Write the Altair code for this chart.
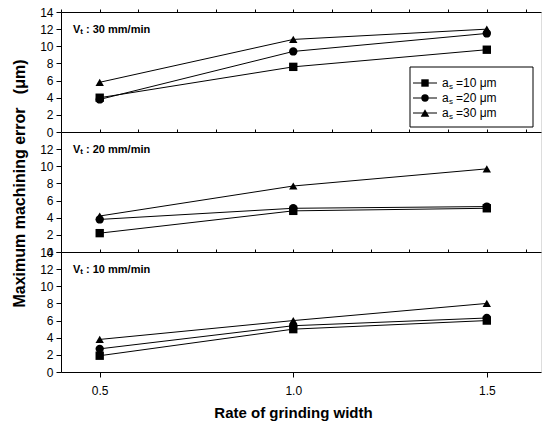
import altair as alt
import pandas as pd

# ---------------- data ----------------
rate = [0.5, 1.0, 1.5]
speeds = ["30", "20", "10"]
series = ["10", "20", "30"]

v30_a10 = [4.0, 7.6, 9.6]
v30_a20 = [3.8, 9.4, 11.5]
v30_a30 = [5.8, 10.8, 12.0]

v20_a10 = [2.2, 4.8, 5.1]
v20_a20 = [3.8, 5.1, 5.3]
v20_a30 = [4.2, 7.7, 9.7]

v10_a10 = [1.9, 5.0, 6.0]
v10_a20 = [2.7, 5.4, 6.3]
v10_a30 = [3.8, 6.0, 8.0]

yticks_full = [0, 2, 4, 6, 8, 10, 12, 14]
yticks_mid = [0, 2, 4, 6, 8, 10, 12]
xticks = [0.5, 1.0, 1.5]
xminor = [0.4, 0.5, 0.6, 0.7, 0.8, 0.9, 1.0, 1.1, 1.2, 1.3, 1.4, 1.5, 1.6]

table = {
    "30": [v30_a10, v30_a20, v30_a30],
    "20": [v20_a10, v20_a20, v20_a30],
    "10": [v10_a10, v10_a20, v10_a30],
}
records = []
for sp in speeds:
    for s, vals in zip(series, table[sp]):
        for r, v in zip(rate, vals):
            records.append({"speed": sp, "series": s, "rate": r, "value": v})
df = pd.DataFrame(records)

W, H = 480, 120
FONT = "Liberation Sans"
NB = "\u00a0"
shape_scale = alt.Scale(domain=series, range=["square", "circle", "triangle-up"])
size_scale = alt.Scale(domain=series, range=[70, 70, 95])
xscale = alt.Scale(domain=[0.4, 1.64], nice=False, zero=False)


def panel(sp, yvals, bottom=False, ytitle=False):
    base = alt.Chart(df).transform_filter(alt.datum.speed == sp)
    yaxis_kw = dict(values=yvals, tickSize=5, labelPadding=3, labelFontSize=12,
                    labelColor="black", domainColor="black", tickColor="black",
                    grid=False, labelFont=FONT)
    if ytitle:
        yaxis_kw.update(title="Maximum machining error" + NB * 3 + "(\u03bcm)",
                        titleFontSize=16, titleFontWeight="bold", titleFont=FONT,
                        titleColor="black", titleX=-42, titleY=51,
                        titleBaseline="middle", titleAngle=270)
    else:
        yaxis_kw.update(title=None)
    y = alt.Y("value:Q", scale=alt.Scale(domain=[0, 14], nice=False), axis=alt.Axis(**yaxis_kw))
    if bottom:
        xaxis = alt.Axis(values=xticks, format=".1f", tickSize=5, labelPadding=8,
                         labelFontSize=12, labelColor="black", labelFont=FONT,
                         domainColor="black", tickColor="black", grid=False,
                         title="Rate of grinding width", titleFontSize=15,
                         titleFontWeight="bold", titleFont=FONT, titleColor="black",
                         titleX=232, titleY=40, titleBaseline="middle")
    else:
        xaxis = None
    lines = base.mark_line(color="black", strokeWidth=1).encode(
        x=alt.X("rate:Q", scale=xscale, axis=xaxis), y=y, detail="series:N")
    pts = base.mark_point(filled=True, color="black", opacity=1).encode(
        x=alt.X("rate:Q", scale=xscale, axis=None), y=y,
        shape=alt.Shape("series:N", scale=shape_scale, legend=None),
        size=alt.Size("series:N", scale=size_scale, legend=None))
    top = base.mark_point(opacity=0).encode(
        x=alt.X("rate:Q", scale=xscale,
                axis=alt.Axis(orient="top", values=xminor, labels=False, tickSize=3,
                              title=None, domainColor="black", tickColor="black",
                              grid=False)),
        y=y)
    one = alt.Chart(pd.DataFrame({"k": [0]}))
    lab1 = one.mark_text(text="V", font=FONT, fontSize=11, fontWeight="bold",
                         align="left", baseline="middle", color="black").encode(
        x=alt.value(12), y=alt.value(18))
    lab2 = one.mark_text(text="t", font=FONT, fontSize=8, fontWeight="bold",
                         align="left", baseline="middle", color="black", dy=2).encode(
        x=alt.value(19.3), y=alt.value(18))
    lab3 = one.mark_text(text=":" + NB + sp + " mm/min", font=FONT, fontSize=11,
                         fontWeight="bold", align="left", baseline="middle",
                         color="black").encode(x=alt.value(25), y=alt.value(18))
    return [lines, pts, top, lab1, lab2, lab3]


def legend_layers():
    one = alt.Chart(pd.DataFrame({"k": [0]}))
    out = [one.mark_rect(fill="white", stroke="black", strokeWidth=1).encode(
        x=alt.value(349), x2=alt.value(472), y=alt.value(55), y2=alt.value(115))]
    ys = [71, 86, 101]
    shapes = ["square", "circle", "triangle-up"]
    sizes = [55, 55, 75]
    for yy, s, shp, sz in zip(ys, series, shapes, sizes):
        out.append(one.mark_rule(color="black", strokeWidth=1).encode(
            x=alt.value(352), x2=alt.value(376), y=alt.value(yy)))
        out.append(one.mark_point(shape=shp, filled=True, color="black", opacity=1,
                                  size=sz).encode(x=alt.value(364), y=alt.value(yy)))
        out.append(one.mark_text(text="a", font=FONT, fontSize=12, align="left",
                                 baseline="middle", color="black").encode(
            x=alt.value(381), y=alt.value(yy)))
        out.append(one.mark_text(text="s", font=FONT, fontSize=8, align="left",
                                 baseline="middle", color="black", dy=4).encode(
            x=alt.value(388), y=alt.value(yy)))
        out.append(one.mark_text(text="=" + s + NB + "\u03bcm", font=FONT, fontSize=12,
                                 align="left", baseline="middle", color="black").encode(
            x=alt.value(395), y=alt.value(yy)))
    return out


p1 = alt.layer(*(panel("30", yticks_full) + legend_layers())).resolve_axis(
    x="independent").properties(width=W, height=H)
p2 = alt.layer(*panel("20", yticks_mid, ytitle=True)).resolve_axis(
    x="independent").properties(width=W, height=H)
p3 = alt.layer(*panel("10", yticks_full, bottom=True)).resolve_axis(
    x="independent").properties(width=W, height=H)

chart = alt.vconcat(p1, p2, p3, spacing=0, bounds="flush").properties(
    padding={"left": 10, "top": 5, "right": 0, "bottom": 5},
    background="white",
).configure_view(stroke=None).configure(font=FONT)

chart.save("out.html", embed_options={"renderer": "svg", "actions": False})
